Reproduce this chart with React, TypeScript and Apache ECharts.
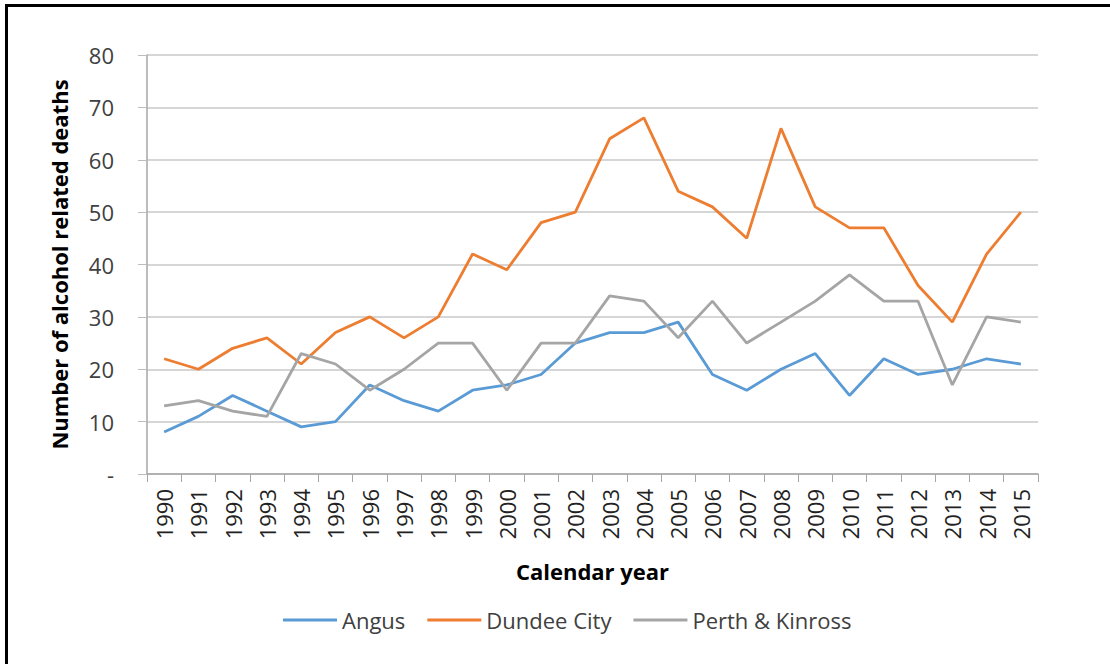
import React, { useEffect, useRef } from "react";
import * as echarts from "echarts";

const years = ["1990","1991","1992","1993","1994","1995","1996","1997","1998","1999","2000","2001","2002","2003","2004","2005","2006","2007","2008","2009","2010","2011","2012","2013","2014","2015"];
const angus = [8, 11, 15, 12, 9, 10, 17, 14, 12, 16, 17, 19, 25, 27, 27, 29, 19, 16, 20, 23, 15, 22, 19, 20, 22, 21];
const dundee = [22, 20, 24, 26, 21, 27, 30, 26, 30, 42, 39, 48, 50, 64, 68, 54, 51, 45, 66, 51, 47, 47, 36, 29, 42, 50];
const perth = [13, 14, 12, 11, 23, 21, 16, 20, 25, 25, 16, 25, 25, 34, 33, 26, 33, 25, 29, 33, 38, 33, 33, 17, 30, 29];
const seriesNames = ["Angus", "Dundee City", "Perth & Kinross"];
const colors = ["#5B9BD5", "#ED7D31", "#A5A5A5"];

export default function App() {
  const ref = useRef<HTMLDivElement>(null);
  useEffect(() => {
    document.body.style.margin = "0";
    const chart = echarts.init(ref.current!, null, { renderer: "svg" });
    const data = [angus, dundee, perth];
    chart.setOption({
      animation: false,
      backgroundColor: "#ffffff",
      grid: { left: 147, right: 72, top: 55, bottom: 190 },
      legend: {
        data: seriesNames,
        left: 278,
        top: 604,
        icon: "rect",
        itemWidth: 54,
        itemHeight: 3,
        itemGap: 22,
        textStyle: { fontFamily: "Open Sans", fontSize: 22, color: "#404040" },
      },
      xAxis: {
        type: "category",
        data: years,
        boundaryGap: true,
        name: "Calendar year",
        nameLocation: "middle",
        nameGap: 86,
        nameTextStyle: { fontFamily: "Open Sans", fontSize: 22, fontWeight: "bold", color: "#000" },
        axisLine: { lineStyle: { color: "#A6A6A6", width: 1.5 } },
        axisTick: { show: true, length: 8, interval: 0, lineStyle: { color: "#A6A6A6" } },
        axisLabel: { rotate: 90, interval: 0, margin: 15, fontFamily: "Open Sans", fontSize: 22, color: "#222" },
      },
      yAxis: {
        type: "value",
        min: 0,
        max: 80,
        interval: 10,
        name: "Number of alcohol related deaths",
        nameLocation: "middle",
        nameGap: 77,
        nameTextStyle: { fontFamily: "Open Sans", fontSize: 22, fontWeight: "bold", color: "#000" },
        axisLine: { show: true, lineStyle: { color: "#A6A6A6", width: 1.5 } },
        axisTick: { show: true, length: 9, lineStyle: { color: "#BDBDBD" } },
        splitLine: { lineStyle: { color: "#C8C8C8", width: 1.5 } },
        axisLabel: {
          margin: 33,
          fontFamily: "Open Sans",
          fontSize: 22,
          color: "#404040",
          formatter: (v: number) => (v === 0 ? "-" : String(v)),
        },
      },
      series: seriesNames.map((n, i) => ({
        name: n,
        type: "line",
        data: data[i],
        symbol: "none",
        lineStyle: { width: 2.8, color: colors[i] },
        itemStyle: { color: colors[i] },
      })),
      graphic: [
        { type: "rect", shape: { x: 5, y: 4, width: 1105, height: 3 }, style: { fill: "#000" } },
        { type: "rect", shape: { x: 5, y: 4, width: 3, height: 660 }, style: { fill: "#000" } },
      ],
    });
    return () => chart.dispose();
  }, []);
  return <div ref={ref} style={{ width: 1110, height: 664 }} />;
}
